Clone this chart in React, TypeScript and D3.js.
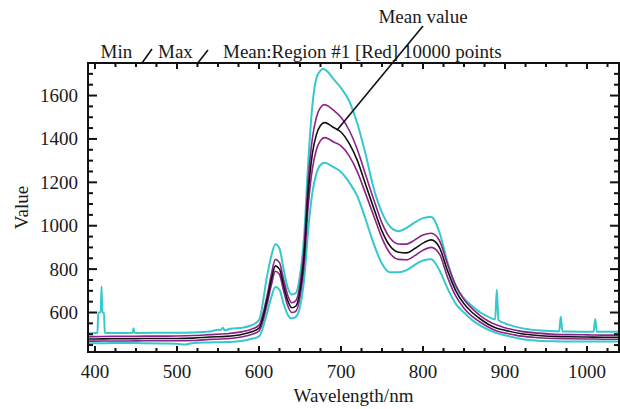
import React from "react";
import * as d3 from "d3";

// wavelength grid shared by the mean curve and the two mean±std curves
const gridWl = [391, 400, 420, 440, 460, 480, 500, 520, 540, 560, 580, 590, 600, 610, 615, 620, 625, 630, 635, 640, 645, 650, 655, 660, 665, 670, 675, 680, 685, 690, 700, 710, 720, 730, 740, 750, 760, 770, 780, 790, 800, 810, 820, 830, 840, 850, 860, 870, 880, 890, 900, 920, 940, 960, 980, 1000, 1020, 1040];

const meanVal = [478, 478, 479, 479, 480, 480, 480, 482, 487, 490, 500, 510, 528, 660, 750, 815, 800, 725, 655, 622, 630, 700, 860, 1150, 1330, 1420, 1462, 1475, 1468, 1455, 1432, 1380, 1300, 1190, 1080, 975, 905, 878, 875, 895, 920, 935, 900, 792, 700, 640, 600, 570, 545, 528, 518, 502, 494, 490, 488, 487, 486, 486];
const upperVal = [489, 489, 490, 490, 491, 491, 492, 494, 498, 502, 512, 522, 542, 680, 775, 845, 830, 752, 680, 645, 655, 730, 900, 1210, 1400, 1500, 1545, 1558, 1550, 1535, 1500, 1440, 1350, 1235, 1120, 1012, 942, 916, 915, 935, 957, 965, 932, 822, 725, 660, 618, 585, 560, 542, 530, 513, 505, 500, 498, 497, 496, 496];
const lowerVal = [468, 468, 469, 469, 470, 470, 470, 471, 476, 479, 488, 498, 514, 640, 725, 790, 775, 700, 632, 600, 606, 672, 822, 1090, 1260, 1350, 1392, 1406, 1400, 1388, 1368, 1322, 1248, 1148, 1045, 943, 872, 845, 843, 862, 887, 900, 870, 762, 675, 620, 582, 555, 532, 515, 506, 491, 484, 480, 479, 478, 477, 477];

// max curve (with the spikes)
const maxWl = [391, 400, 403, 404, 407, 408, 409, 411, 412, 420, 440, 446, 447, 448, 460, 480, 500, 520, 540, 550, 553, 556, 558, 565, 580, 590, 600, 610, 615, 620, 625, 630, 635, 640, 645, 650, 655, 660, 665, 670, 675, 678, 685, 690, 700, 710, 720, 730, 740, 750, 760, 770, 780, 790, 800, 810, 820, 830, 840, 850, 860, 870, 880, 888, 890, 892, 900, 920, 940, 960, 966, 968, 970, 980, 1000, 1008, 1010, 1012, 1020, 1040];
const maxVal = [504, 505, 506, 600, 601, 720, 600, 600, 506, 505, 506, 507, 528, 507, 506, 507, 507, 508, 512, 520, 518, 530, 518, 525, 530, 540, 565, 770, 860, 915, 895, 800, 715, 683, 690, 770, 950, 1290, 1550, 1680, 1715, 1722, 1705, 1680, 1635, 1575, 1470, 1330, 1170, 1060, 995, 975, 990, 1015, 1035, 1040, 970, 830, 720, 665, 630, 600, 580, 568, 705, 565, 550, 528, 518, 514, 513, 580, 513, 512, 511, 511, 570, 511, 511, 511];

// min curve
const minWl = [391, 400, 420, 440, 460, 480, 500, 510, 520, 540, 560, 580, 590, 600, 610, 615, 620, 625, 630, 635, 640, 645, 650, 655, 660, 665, 670, 675, 680, 690, 700, 710, 720, 730, 740, 750, 760, 770, 780, 790, 800, 810, 820, 830, 840, 850, 860, 870, 880, 890, 900, 920, 940, 960, 980, 1000, 1020, 1040];
const minVal = [458, 458, 459, 460, 458, 457, 456, 452, 460, 462, 464, 470, 478, 490, 600, 670, 718, 705, 640, 590, 573, 580, 625, 750, 980, 1150, 1240, 1280, 1290, 1272, 1248, 1200, 1135, 1030, 915, 825, 785, 785, 795, 820, 840, 845, 795, 710, 640, 600, 565, 540, 520, 505, 495, 478, 470, 467, 466, 466, 466, 466];

const xTicks = [400, 500, 600, 700, 800, 900, 1000];
const yTicks = [600, 800, 1000, 1200, 1400, 1600];

const W = 620;
const H = 409;
const LEFT = 88, RIGHT = 619, TOP = 63, BOTTOM = 352;
const FONT = "'Liberation Serif', 'Times New Roman', serif";

const CYAN = "#35c8cc";
const PURPLE = "#8a2386";

export default function App() {
  const x = d3.scaleLinear().domain([391.5, 1039]).range([LEFT, RIGHT]);
  const y = d3.scaleLinear().domain([418, 1750]).range([BOTTOM, TOP]);

  const line = d3
    .line<[number, number]>()
    .x(d => x(d[0]))
    .y(d => y(d[1]))
    .curve(d3.curveMonotoneX);

  const pairs = (wl: number[], v: number[]) => wl.map((w, i) => [w, v[i]] as [number, number]);

  const xMinor = d3.range(400, 1040, 25);
  const yMinor = d3.range(450, 1751, 50);

  return (
    <svg width={W} height={H} style={{ position: "absolute", left: 0, top: 0, background: "#fff" }}>
      <defs>
        <clipPath id="plot">
          <rect x={LEFT} y={TOP - 10} width={RIGHT - LEFT} height={BOTTOM - TOP + 10} />
        </clipPath>
      </defs>

      <g clipPath="url(#plot)" fill="none" strokeLinejoin="round">
        <path d={line(pairs(maxWl, maxVal)) || ""} stroke={CYAN} strokeWidth={2} />
        <path d={line(pairs(minWl, minVal)) || ""} stroke={CYAN} strokeWidth={2} />
        <path d={line(pairs(gridWl, upperVal)) || ""} stroke={PURPLE} strokeWidth={1.6} />
        <path d={line(pairs(gridWl, lowerVal)) || ""} stroke={PURPLE} strokeWidth={1.6} />
        <path d={line(pairs(gridWl, meanVal)) || ""} stroke="#111" strokeWidth={1.6} />
      </g>

      {/* frame */}
      <rect x={LEFT} y={TOP} width={RIGHT - LEFT} height={BOTTOM - TOP} fill="none" stroke="#111" strokeWidth={2} />

      {/* x ticks, bottom and top, pointing in */}
      {xMinor.map(v => {
        const major = v % 100 === 0;
        const len = major ? 6 : 4;
        return (
          <g key={"xt" + v} stroke="#111" strokeWidth={2}>
            <line x1={x(v)} x2={x(v)} y1={BOTTOM} y2={BOTTOM - len} />
            <line x1={x(v)} x2={x(v)} y1={TOP} y2={TOP + len} />
          </g>
        );
      })}
      {/* y ticks, left and right */}
      {yMinor.map(v => {
        const major = v % 200 === 0;
        const len = major ? 9 : 5;
        return (
          <g key={"yt" + v} stroke="#111" strokeWidth={2}>
            <line x1={LEFT} x2={LEFT + len} y1={y(v)} y2={y(v)} />
            <line x1={RIGHT} x2={RIGHT - len} y1={y(v)} y2={y(v)} />
          </g>
        );
      })}

      <g fontFamily={FONT} fontSize={19} fill="#1a1a1a">
        {xTicks.map(v => (
          <text key={"xl" + v} x={x(v)} y={378} textAnchor="middle">{v}</text>
        ))}
        {yTicks.map(v => (
          <text key={"yl" + v} x={LEFT - 10} y={y(v) + 6.5} textAnchor="end">{v}</text>
        ))}
        <text x={(LEFT + RIGHT) / 2} y={402} textAnchor="middle">Wavelength/nm</text>
        <text transform={`translate(28, ${(TOP + BOTTOM) / 2}) rotate(-90)`} textAnchor="middle">Value</text>

        {/* legend title */}
        <text x={100.5} y={57.5}>Min</text>
        <text x={158} y={57.5}>Max</text>
        <text x={223} y={57.5}>Mean:Region #1 [Red] 10000 points</text>

        {/* annotation */}
        <text x={x(800)} y={23} textAnchor="middle">Mean value</text>
      </g>
      <g stroke="#111" strokeWidth={1.6}>
        <line x1={142} y1={63} x2={152} y2={49} />
        <line x1={197} y1={64} x2={208} y2={50} />
        <line x1={x(800)} y1={26} x2={x(695)} y2={y(1440)} />
      </g>
    </svg>
  );
}
